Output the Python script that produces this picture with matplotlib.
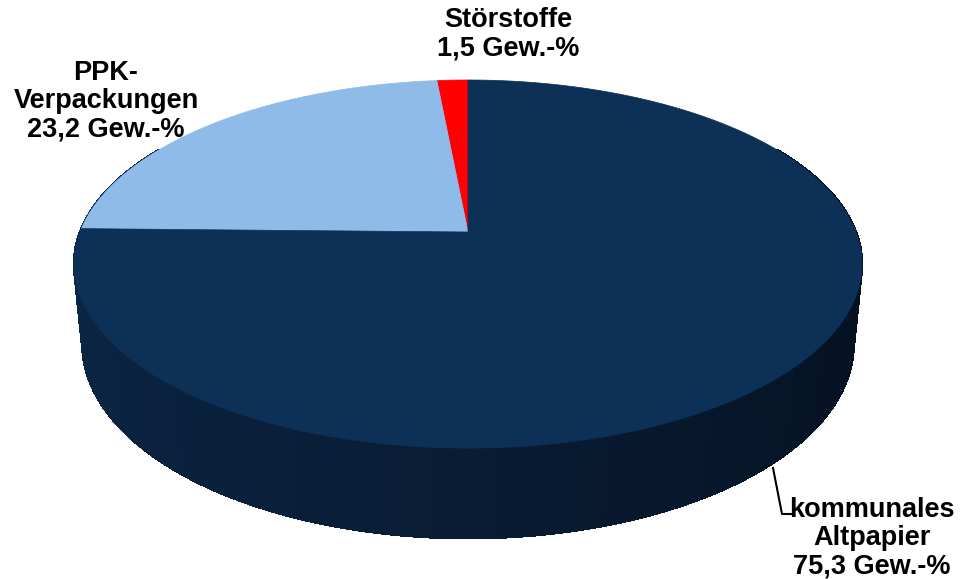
import numpy as np
import matplotlib.pyplot as plt
from matplotlib.patches import Polygon

# data
categories = ["Störstoffe", "PPK-Verpackungen", "kommunales Altpapier"]
values = [1.5, 23.2, 75.3]
slice_labels = ["Störstoffe\n1,5 Gew.-%", "PPK-\nVerpackungen\n23,2 Gew.-%",
                "kommunales\nAltpapier\n75,3 Gew.-%"]
colors = ["#ff0000", "#8fbbe8", "#0d3057"]

plt.rcParams['font.family'] = ['Liberation Sans', 'DejaVu Sans']

W, H = 962, 579
fig = plt.figure(figsize=(W / 100, H / 100), dpi=100)
ax = fig.add_axes([0, 0, 1, 1])
ax.set_xlim(0, W)
ax.set_ylim(H, 0)
ax.axis('off')

# simple pinhole camera for the tilted disk
cx, cy = 468, 232
sphi = 0.46
cphi = np.sqrt(1 - sphi ** 2)
Dc = 5.1
F = 388 * Dc
depth = 0.235


def proj(u, v, z=0.0):
    yc = v * sphi + z * cphi
    zc = v * cphi + Dc - z * sphi
    return cx + F * u / zc, cy - F * yc / zc


# side wall (front part): one base shape, then gradient strips on top
side_c = [np.array([11, 40, 72]), np.array([9, 28, 52]), np.array([3, 14, 28])]
angs = np.radians(np.linspace(150, 390, 241))
base = [proj(np.cos(a), np.sin(a)) for a in angs] + \
       [proj(np.cos(a), np.sin(a), -depth) for a in angs[::-1]]
ax.add_patch(Polygon(base, closed=True, facecolor=side_c[1] / 255,
                     edgecolor=side_c[1] / 255, lw=0.5))
quads = []
for a0, a1 in zip(angs[:-1], angs[1:]):
    am = 0.5 * (a0 + a1)
    t = np.clip((np.degrees(am) - 180) / 180, 0, 1)
    if t < 0.5:
        c = side_c[0] + (side_c[1] - side_c[0]) * t * 2
    else:
        c = side_c[1] + (side_c[2] - side_c[1]) * (t - 0.5) * 2
    pts = [proj(np.cos(a0), np.sin(a0)), proj(np.cos(a1), np.sin(a1)),
           proj(np.cos(a1), np.sin(a1), -depth), proj(np.cos(a0), np.sin(a0), -depth)]
    quads.append((-np.sin(am), pts, c / 255))
quads.sort(key=lambda q: q[0])
for _, pts, c in quads:
    ax.add_patch(Polygon(pts, closed=True, facecolor=c, edgecolor=c, lw=1.0,
                         antialiased=False))

# top face slices, counterclockwise from 12 o'clock
start = 90.0
for val, col in zip(values, colors):
    span = val / sum(values) * 360
    th = np.radians(np.linspace(start, start + span, max(int(span * 2), 4)))
    pts = [proj(0, 0)] + [proj(np.cos(t), np.sin(t)) for t in th]
    ax.add_patch(Polygon(pts, closed=True, facecolor=col, edgecolor=col, lw=0.5))
    start += span

# labels
fs = 19.5
ax.text(508, 34, slice_labels[0], ha='center', va='center', fontsize=fs,
        fontweight='bold', linespacing=1.12)
ax.text(106, 101, slice_labels[1], ha='center', va='center', fontsize=fs,
        fontweight='bold', linespacing=1.12)
ax.text(872, 538, slice_labels[2], ha='center', va='center', fontsize=fs,
        fontweight='bold', linespacing=1.12)

# leader line for kommunales Altpapier
ax.plot([773, 782, 791], [468, 514, 514], color='black', lw=1.5)

fig.savefig("out.png", dpi=100)
